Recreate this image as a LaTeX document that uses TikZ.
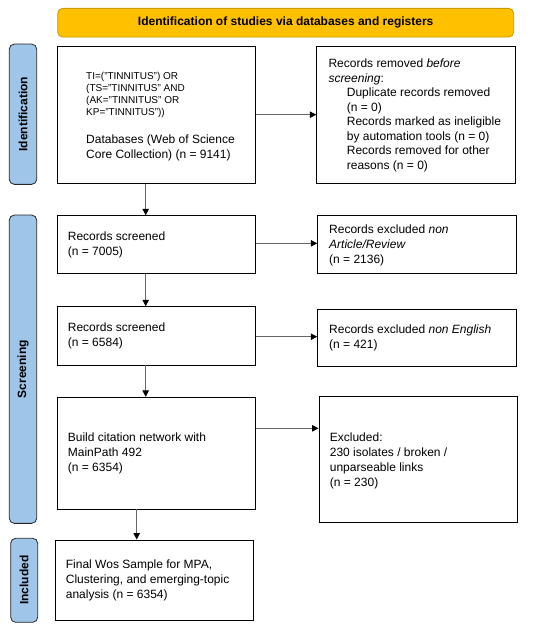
\documentclass[tikz,border=0pt]{standalone}
\usepackage{fontspec}
\setmainfont{Liberation Sans}
\usetikzlibrary{arrows.meta,calc}
\definecolor{hdryellow}{HTML}{FFC000}
\definecolor{hdrborder}{HTML}{C89A00}
\definecolor{sideblue}{HTML}{9FC5E8}
\definecolor{arrgray}{HTML}{666666}
\tikzset{
  box/.style={draw=black,line width=0.9pt,fill=white,inner sep=0pt},
  txt/.style={anchor=west,align=left,inner sep=0pt,font=\fontsize{12}{15}\selectfont},
  smalltxt/.style={anchor=west,align=left,inner sep=0pt,font=\fontsize{10}{12.2}\selectfont},
  sidelabel/.style={draw=black!85,line width=0.8pt,fill=sideblue,rounded corners=5pt,inner sep=0pt,
    font=\fontsize{12}{14}\selectfont\bfseries},
  header/.style={draw=hdrborder,line width=0.8pt,fill=hdryellow,rounded corners=5pt,inner sep=0pt,
    font=\fontsize{12}{14}\selectfont\bfseries},
  arr/.style={draw=arrgray,line width=0.8pt,-{Triangle[length=6.5pt,width=6.5pt,color=black]}}
}
\begin{document}
\begin{tikzpicture}[x=1pt,y=-1pt]
\useasboundingbox (0,0) rectangle (550,635);
% header
\node[header,minimum width=456pt,minimum height=28.7pt] (hdr) at (285.7,22.7) {Identification of studies via databases and registers};
% side labels
\node[sidelabel,minimum width=27.4pt,minimum height=140.3pt] (sidA) at (23,114.2) {};
\node[rotate=90,font=\fontsize{12}{14}\selectfont\bfseries,inner sep=0pt] (sidAt) at (sidA.center) {Identification};
\node[sidelabel,minimum width=27.4pt,minimum height=308.3pt] (sidB) at (23,369.2) {};
\node[rotate=90,font=\fontsize{12}{14}\selectfont\bfseries,inner sep=0pt] (sidBt) at (sidB.center) {Screening};
\node[sidelabel,minimum width=27pt,minimum height=84pt] (sidC) at (24.2,580.3) {};
\node[rotate=90,font=\fontsize{12}{14}\selectfont\bfseries,inner sep=0pt] (sidCt) at (sidC.center) {Included};
% boxes
\node[box,minimum width=198pt,minimum height=137.3pt] (db) at (156.7,114.7) {};
\node[smalltxt] (dbq) at (86,95) {TI=("TINNITUS") OR\\(TS="TINNITUS" AND\\(AK="TINNITUS" OR\\KP="TINNITUS"))};
\node[txt] (dbt) at (86,147.5) {Databases (Web of Science\\Core Collection) (n = 9141)};

\node[box,minimum width=198.6pt,minimum height=137.3pt] (rem) at (416,114.7) {};
\node[txt,font=\fontsize{12}{14.5}\selectfont] (remt) at (328.3,115.2) {Records removed \textit{before}\\\textit{screening}:\\
\hspace*{18.4pt}Duplicate records removed\\\hspace*{18.4pt}(n = 0)\\
\hspace*{18.4pt}Records marked as ineligible\\\hspace*{18.4pt}by automation tools (n = 0)\\
\hspace*{18.4pt}Records removed for other\\\hspace*{18.4pt}reasons (n = 0)};

\node[box,minimum width=198.4pt,minimum height=57.6pt] (s1) at (156.5,244.5) {};
\node[txt] (s1t) at (67.7,245.2) {Records screened\\(n = 7005)};
\node[box,minimum width=199pt,minimum height=57.6pt] (e1) at (417.2,244.5) {};
\node[txt] (e1t) at (329,245.7) {Records excluded \textit{non}\\\textit{Article/Review}\\(n = 2136)};

\node[box,minimum width=198.4pt,minimum height=58.3pt] (s2) at (156.5,335.85) {};
\node[txt] (s2t) at (67.7,336.2) {Records screened\\(n = 6584)};
\node[box,minimum width=199pt,minimum height=57.7pt] (e2) at (417.2,337.85) {};
\node[txt] (e2t) at (329,338.3) {Records excluded \textit{non English}\\(n = 421)};

\node[box,minimum width=198pt,minimum height=111.7pt] (bd) at (156.7,453.15) {};
\node[txt] (bdt) at (67.7,453.7) {Build citation network with\\MainPath 492\\(n = 6354)};
\node[box,minimum width=198.7pt,minimum height=126pt] (e3) at (418.35,459.7) {};
\node[txt] (e3t) at (329.7,460.5) {Excluded:\\230 isolates / broken /\\unparseable links\\(n = 230)};

\node[box,minimum width=198.3pt,minimum height=80pt] (fin) at (154.15,580) {};
\node[txt] (fint) at (65.7,580.8) {Final Wos Sample for MPA,\\Clustering, and emerging-topic\\analysis (n = 6354)};

% arrows
\coordinate (xa) at (145.7,0);
\coordinate (xb) at (136.7,0);
\draw[arr] (db.south -| xa) -- (s1.north -| xa);
\draw[arr] (s1.south -| xa) -- (s2.north -| xa);
\draw[arr] (s2.south -| xa) -- (bd.north -| xa);
\draw[arr] (bd.south -| xb) -- (fin.north -| xb);
\draw[arr] (db.east) -- (rem.west);
\coordinate (y1) at (0,243.3);
\coordinate (y2) at (0,336.7);
\coordinate (y3) at (0,428.3);
\draw[arr] (s1.east |- y1) -- (e1.west |- y1);
\draw[arr] (s2.east |- y2) -- (e2.west |- y2);
\draw[arr] (bd.east |- y3) -- (e3.west |- y3);
\end{tikzpicture}
\end{document}
